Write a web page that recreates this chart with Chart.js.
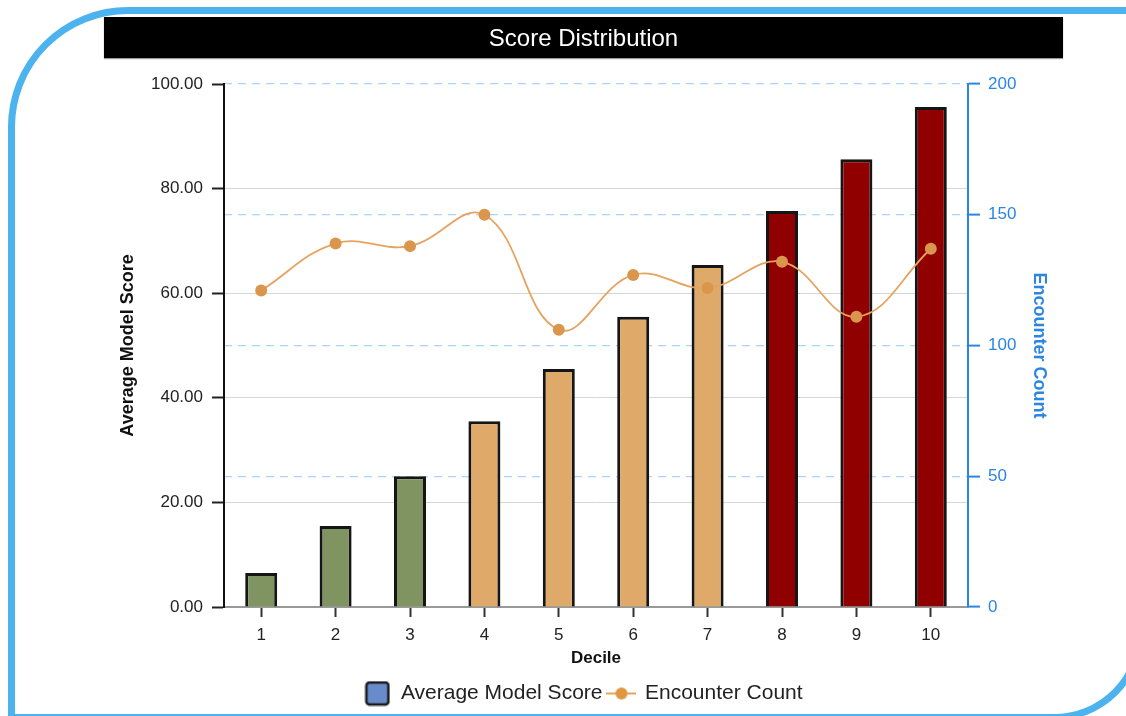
<!DOCTYPE html>
<html>
<head>
<meta charset="utf-8">
<script src="https://cdn.jsdelivr.net/npm/chart.js@4.4.1/dist/chart.umd.min.js"></script>
<style>
  html, body { margin: 0; padding: 0; background: #fff; }
  #wrap { position: relative; width: 1126px; height: 716px; overflow: hidden; }
  #frame {
    position: absolute; left: 8px; top: 7px; width: 1122px; height: 700px;
    border: 7px solid #4db3ef; border-top-left-radius: 120px; border-bottom-right-radius: 90px;
    pointer-events: none;
  }
  #title {
    position: absolute; left: 104px; top: 17px; width: 959px; height: 41px;
    background: #000; color: #fff; text-align: center;
    font: 24px "Liberation Sans", Arial, sans-serif; line-height: 41px;
    box-shadow: 0 1px 1px #999;
  }
  canvas { position: absolute; left: 0; top: 0; }
</style>
</head>
<body>
<div id="wrap">
  <canvas id="scoreChart" width="1126" height="716"></canvas>
  <div id="title">Score Distribution</div>
  <div id="frame"></div>
</div>
<script>
// data
const deciles = ['1', '2', '3', '4', '5', '6', '7', '8', '9', '10'];
const avgScore = [6.5, 15.5, 25.0, 35.5, 45.5, 55.5, 65.4, 75.7, 85.6, 95.6];
const encounterCount = [121, 139, 138, 150, 106, 127, 122, 132, 111, 137];
const scoreTicks = [0, 20, 40, 60, 80, 100];
const countTicks = [0, 50, 100, 150, 200];

const FONT = '"Liberation Sans", Arial, sans-serif';
const green = '#7f9461', tan = '#dfaa69', red = '#900000';
const barColors = avgScore.map((v, i) => i < 3 ? green : (i < 7 ? tan : red));

// legend markers
function boxMarker() {
  const c = document.createElement('canvas');
  c.width = 26; c.height = 26;
  const g = c.getContext('2d');
  g.fillStyle = '#6a8bcb';
  g.strokeStyle = '#1a1a1a';
  g.lineWidth = 2.5;
  g.beginPath();
  g.roundRect(2, 2, 22, 22, 3);
  g.fill(); g.stroke();
  return c;
}
function lineMarker() {
  const c = document.createElement('canvas');
  c.width = 30; c.height = 14;
  const g = c.getContext('2d');
  g.strokeStyle = '#e5a35f';
  g.lineWidth = 2;
  g.beginPath(); g.moveTo(0, 7); g.lineTo(30, 7); g.stroke();
  g.fillStyle = '#e0963f';
  g.beginPath(); g.arc(15, 7, 6, 0, Math.PI * 2); g.fill();
  return c;
}

const ctx = document.getElementById('scoreChart').getContext('2d');
new Chart(ctx, {
  type: 'bar',
  data: {
    labels: deciles,
    datasets: [{
      type: 'line',
      label: 'Encounter Count',
      data: encounterCount,
      yAxisID: 'y1',
      borderColor: '#e5a35f',
      borderWidth: 1.8,
      tension: 0.4,
      pointRadius: 6,
      pointBackgroundColor: '#d9964c',
      pointBorderWidth: 0,
      order: 0
    }, {
      label: 'Average Model Score',
      data: avgScore,
      yAxisID: 'y',
      backgroundColor: barColors,
      borderColor: '#151515',
      borderWidth: 3,
      barPercentage: 0.43,
      categoryPercentage: 1,
      order: 1
    }]
  },
  options: {
    responsive: false,
    animation: false,
    layout: { padding: { top: 84, left: 113, right: 72, bottom: 2 } },
    plugins: {
      tooltip: { enabled: false },
      legend: {
        position: 'bottom',
        labels: {
          usePointStyle: true,
          pointStyleWidth: 26,
          padding: 6,
          font: { family: FONT, size: 21 },
          color: '#222',
          generateLabels: () => [
            { text: 'Average Model Score', pointStyle: boxMarker(), fontColor: '#222', hidden: false, datasetIndex: 1 },
            { text: 'Encounter Count', pointStyle: lineMarker(), fontColor: '#222', hidden: false, datasetIndex: 0 }
          ]
        }
      }
    },
    scales: {
      x: {
        grid: { offset: false, drawOnChartArea: false, tickLength: 10, tickColor: '#333', tickWidth: 2 },
        border: { color: '#999', width: 2 },
        ticks: { color: '#222', padding: 8, font: { family: FONT, size: 17 } },
        title: { display: true, text: 'Decile', color: '#111', padding: { top: 2, bottom: 8 }, font: { family: FONT, size: 17, weight: 'bold' } },
        afterFit: s => { s.height = 70; }
      },
      y: {
        position: 'left',
        min: 0, max: 100,
        afterBuildTicks: s => { s.ticks = scoreTicks.map(v => ({ value: v })); },
        grid: {
          color: c => c.tick && c.tick.value === 100 ? 'rgba(0,0,0,0)' : '#d6d6d6',
          tickLength: 12, tickColor: '#222', tickWidth: 2
        },
        border: { color: '#111', width: 2 },
        ticks: { color: '#222', padding: 9, font: { family: FONT, size: 17 }, callback: v => v.toFixed(2) },
        title: { display: true, text: 'Average Model Score', color: '#111', font: { family: FONT, size: 18, weight: 'bold' } },
        afterFit: s => { s.width = 111; }
      },
      y1: {
        position: 'right',
        min: 0, max: 200,
        afterBuildTicks: s => { s.ticks = countTicks.map(v => ({ value: v })); },
        grid: {
          color: '#add3fa', lineWidth: 1.2, tickLength: 12, tickColor: '#2a86e0', tickWidth: 2, tickBorderDash: []
        },
        border: { color: '#2a86e0', width: 2, dash: [8, 6] },
        ticks: { color: '#2a86e0', padding: 8, font: { family: FONT, size: 17 } },
        title: { display: true, text: 'Encounter Count', color: '#2a86e0', font: { family: FONT, size: 18, weight: 'bold' } },
        afterFit: s => { s.width = 86; }
      }
    }
  }
});
</script>
</body>
</html>
